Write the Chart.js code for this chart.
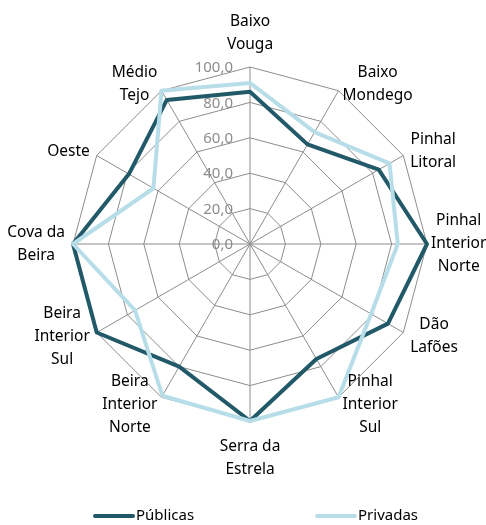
<!DOCTYPE html>
<html>
<head>
<meta charset="utf-8">
<script src="https://cdn.jsdelivr.net/npm/chart.js@4.4.1/dist/chart.umd.min.js"></script>
<style>
  html, body { margin: 0; padding: 0; background: #fff; }
  #wrap { width: 486px; height: 525px; position: relative; }
</style>
</head>
<body>
<div id="wrap"><canvas id="my-chart" width="486" height="525"></canvas></div>
<script>
let regions = [
  ['Baixo', 'Vouga'], ['Baixo', 'Mondego'], ['Pinhal', 'Litoral'], ['Pinhal', 'Interior', 'Norte'],
  ['Dão', 'Lafões'], ['Pinhal', 'Interior', 'Sul'], ['Serra da', 'Estrela'], ['Beira', 'Interior', 'Norte'],
  ['Beira', 'Interior', 'Sul'], ['Cova da', 'Beira'], ['Oeste'], ['Médio', 'Tejo']
];
let publicas = [86, 65, 84, 100, 90, 75, 100, 80, 100, 100, 79, 94];
let privadas = [91, 73, 91, 83.5, 79, 100, 100, 99, 75, 100, 63, 100];
let tickvalues = [0, 20, 40, 60, 80, 100];

let darkcolor = '#215968';
let lightcolor = '#b7dee8';
let gridcolor = '#8c8c8c';
let fontname = '"Noto Sans", sans-serif';
let lineh = 23;

function ticklabel(v) {
  return v.toFixed(1).replace('.', ',');
}

// tick labels drawn left of the vertical axis, like the spreadsheet does
let tickplugin = {
  id: 'tickplugin',
  beforeDatasetsDraw(chart) {
    let scale = chart.scales.r;
    let ctx = chart.ctx;
    ctx.save();
    ctx.font = '15px ' + fontname;
    ctx.fillStyle = gridcolor;
    ctx.textAlign = 'right';
    ctx.textBaseline = 'middle';
    for (let i = 0; i < tickvalues.length; i++) {
      let pos = scale.getPointPositionForValue(0, tickvalues[i]);
      ctx.fillText(ticklabel(tickvalues[i]), pos.x - 17, pos.y + 1);
    }
    ctx.restore();
  }
};

// category labels, lines centred like in the spreadsheet
let labelplugin = {
  id: 'labelplugin',
  afterDraw(chart) {
    let scale = chart.scales.r;
    let ctx = chart.ctx;
    let n = chart.data.labels.length;
    ctx.save();
    ctx.font = '15.5px ' + fontname;
    ctx.fillStyle = '#000';
    ctx.textAlign = 'center';
    ctx.textBaseline = 'middle';
    for (let i = 0; i < n; i++) {
      let lines = chart.data.labels[i];
      let angle = i * 360 / n;
      let pad = 8;
      if (angle === 0) pad = 11;
      if (angle === 90) pad = 4;
      if (angle === 180) pad = 14;
      let p = scale.getPointPosition(i, scale.drawingArea + pad);
      let w = 0;
      lines.forEach(function(t) { w = Math.max(w, ctx.measureText(t).width); });
      let h = lines.length * lineh;
      let cx = p.x;
      let top = p.y - h / 2;
      if (angle > 0 && angle < 180) cx = p.x + w / 2;
      if (angle > 180) cx = p.x - w / 2;
      if (angle === 0) top = p.y - h;
      if (angle === 180) top = p.y;
      lines.forEach(function(t, k) {
        ctx.fillText(t, cx, top + lineh / 2 + k * lineh);
      });
    }
    ctx.restore();
  }
};

// legend spread out along the bottom
let legendplugin = {
  id: 'legendplugin',
  afterDraw(chart) {
    let ctx = chart.ctx;
    let starts = [95, 317];
    ctx.save();
    ctx.font = '15px ' + fontname;
    ctx.textAlign = 'left';
    ctx.textBaseline = 'middle';
    chart.data.datasets.forEach(function(ds, i) {
      let y = chart.height - 9;
      ctx.strokeStyle = ds.borderColor;
      ctx.lineWidth = 4;
      ctx.lineCap = 'round';
      ctx.beginPath();
      ctx.moveTo(starts[i], y);
      ctx.lineTo(starts[i] + 38, y);
      ctx.stroke();
      ctx.fillStyle = '#000';
      ctx.fillText(ds.label, starts[i] + 41, y);
    });
    ctx.restore();
  }
};

let chartcontext = document.getElementById('my-chart').getContext('2d');

let chartConfig = {
  type: 'radar',
  data: {
    labels: regions,
    datasets: [{
      label: 'Públicas',
      data: publicas,
      borderColor: darkcolor,
      backgroundColor: darkcolor,
      borderWidth: 4,
      fill: false,
      pointRadius: 0,
      order: 1
    }, {
      label: 'Privadas',
      data: privadas,
      borderColor: lightcolor,
      backgroundColor: lightcolor,
      borderWidth: 4,
      fill: false,
      pointRadius: 0,
      order: 0
    }]
  },
  options: {
    responsive: false,
    animation: false,
    layout: { padding: { top: 67, bottom: 104, left: 73, right: 59 } },
    elements: { line: { tension: 0, borderJoinStyle: 'round' } },
    plugins: { legend: { display: false }, tooltip: { enabled: false } },
    scales: {
      r: {
        min: 0,
        max: 100,
        ticks: { stepSize: 20, display: false },
        grid: { color: gridcolor, lineWidth: 1 },
        angleLines: { color: gridcolor, lineWidth: 1 },
        pointLabels: { display: false }
      }
    }
  },
  plugins: [tickplugin, labelplugin, legendplugin]
};

let mychart = new Chart(chartcontext, chartConfig);
</script>
</body>
</html>
